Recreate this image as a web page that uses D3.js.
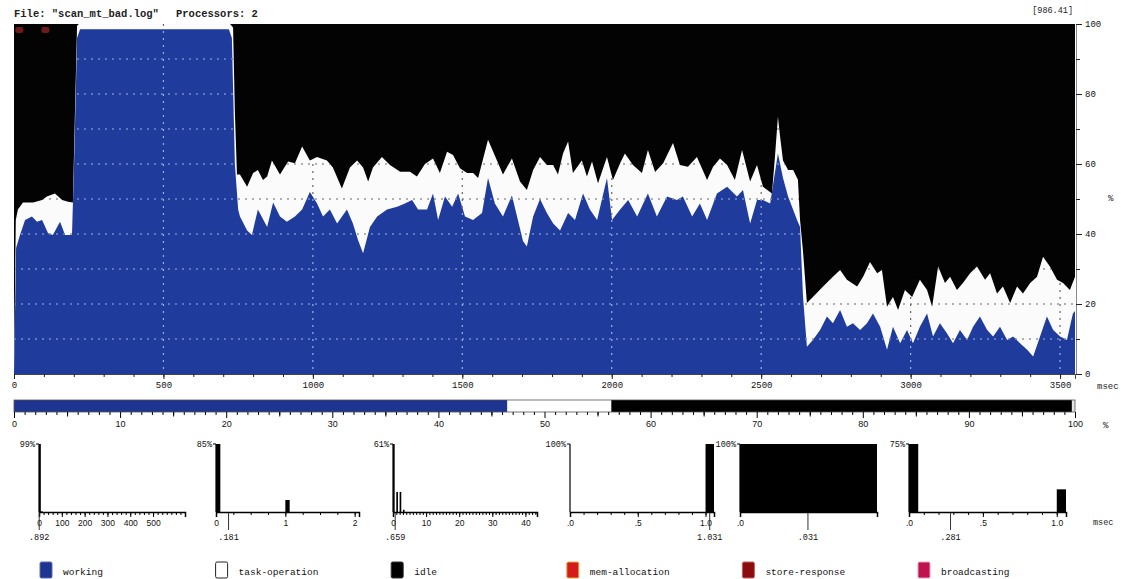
<!DOCTYPE html>
<html><head><meta charset="utf-8">
<script src="https://cdn.jsdelivr.net/npm/d3@7"></script>
<style>
html,body{margin:0;padding:0;background:#fff;}
svg{display:block;font-family:"Liberation Mono","DejaVu Sans Mono",monospace;}
.tick text{fill:#111;}
</style></head><body>
<svg id="chart" width="1121" height="579"></svg>
<script>
// ---------------- data ----------------
// utilisation over time (percent of both processors)
const workingMs = [0,7,20,37,60,77,94,114,130,154,171,194,201,211,221,719,729,739,750,
  756,780,796,816,847,867,890,913,940,964,990,1014,1034,1057,1081,1114,1134,1151,1168,1191,1215,
  1248,1282,1308,1332,1352,1382,1402,1419,1442,1466,1486,1509,1536,1566,1586,1609,1636,1666,1686,
  1703,1716,1737,1760,1783,1804,1827,1854,1877,1904,1927,1951,1984,2001,2028,2055,2085,2121,2151,
  2185,2218,2238,2269,2295,2319,2352,2386,2419,2439,2463,2486,2506,2530,2556,2573,2590,2620,2630,
  2640,2653,2673,2697,2720,2740,2764,2787,2807,2831,2854,2874,2898,2921,2941,2965,2988,3008,3031,
  3055,3075,3098,3122,3142,3165,3189,3209,3232,3256,3276,3299,3323,3343,3366,3390,3410,3433,3456,
  3477,3500,3523,3543,3550];
const workingPct = [0,36,39.7,44,45,43.5,44,40.2,39.7,43.5,39.7,39.7,60,96,98.5,98.5,96,60,47,
  45,41,39.7,47,42,49,45,43.5,45,47,52,48.7,45,47,43,47,43,38.3,34.5,42,45,
  47,47.8,48.7,49.7,47,47,51.6,44,50.7,47.8,51.6,45,44,46,56,48.7,45,51,44,
  38,36.4,45,50,46,43,41,46,44,51.6,47,44,56,44,47,49.7,45,51.6,45,
  50.7,49.7,50.7,45,48.7,44,51.6,53.5,50.7,52.6,43,49.7,49.7,48.7,63,56,50.7,44,42,
  22,7.8,9.7,12.6,16.4,14.5,18.3,13.5,14.5,12.6,14.5,17.3,13.5,6.9,13.5,8.8,12.6,8.8,13.5,
  17.3,10.7,14.5,11.6,8.8,12.6,9.7,13.5,16.4,12.6,10.7,13.5,9.7,10.7,8.8,6.9,5,10.7,16.4,
  12.6,10.7,9.7,17.3,18];

// working + task-operation (upper edge of the busy band)
const busyMs = [0,6,13,30,64,94,110,137,161,181,197,204,211,217,723,733,739,746,
  756,780,800,816,833,847,863,890,917,940,964,990,1014,1047,1067,1097,1124,1148,1168,1185,1201,
  1231,1258,1292,1325,1348,1375,1402,1425,1449,1469,1492,1516,1536,1553,1586,1616,1636,1666,1693,
  1716,1737,1760,1783,1804,1820,1837,1854,1870,1900,1917,1934,1954,1984,2004,2028,2044,2071,2101,
  2121,2145,2172,2205,2228,2255,2285,2319,2339,2362,2386,2412,2436,2463,2486,2506,2536,2546,2556,
  2563,2573,2590,2607,2623,2630,2640,2653,2673,2707,2740,2764,2787,2821,2841,2864,2888,2904,2921,
  2941,2958,2981,3005,3031,3055,3072,3092,3115,3132,3155,3175,3199,3222,3249,3266,3289,3309,3333,
  3356,3376,3400,3423,3443,3466,3490,3510,3533,3550];
const busyPct = [0,44,47,49,49,49.7,50.7,51.6,49.7,49.2,49,75,99.5,100,100,99,75,57,
  57,53.5,57.4,58.3,55.4,56.4,61,57,60.7,60.2,65,61,62,61,59,53,59,61,59,55,59,
  62,59.7,57.8,57.8,56.4,60,61.6,57.4,63.5,62.6,58.8,57.4,57.4,56,66.9,61,57,61.6,55,
  52.6,58.3,62,59.7,59.7,57,63,66.4,57.4,61,56.4,60.7,54.5,62,55.4,60.2,63,59.7,57.4,
  64,57.7,60.2,66,59.7,59.2,62,55.4,59.2,61.6,59.7,55.4,64,55,59.7,53.5,51.6,62,73.5,
  68,61,58.3,58.3,55.5,44,35,20.3,22,25,27.8,29.7,26.9,25,27.8,32,28.8,29.7,19.2,
  22,18.3,24,22,26.9,24,19.2,30.7,26,27.8,24,26,28.8,30.7,26.9,28.8,23,25,20.3,
  25,23,26,27.8,33.5,30.7,26.9,26,24,27.8];

// short events seen at the top of the trace
const eventMs = [18, 105];

// share of total time per state (percent); the small remainder is unclassified
const stateNames = ["working", "task-operation", "idle", "mem-allocation", "store-response", "broadcasting"];
const stateShare = [46.5, 9.8, 43.4, 0, 0, 0];
const stateColors = ["#1d3590", "#ffffff", "#000000", "#d41c1c", "#8a0c0c", "#c0124e"];

// duration histograms, one per state: [from, to, percent]
const histTopLabel = ["99%", "85%", "61%", "100%", "100%", "75%"];
const histMaxPct = [99, 85, 61, 100, 100, 75];
const histDomainMax = [640, 2.0625, 43.5, 1.0625, 0.0625, 1.0625];
const histTickValues = [[0,100,200,300,400,500],[0,1,2],[0,10,20,30,40],[0,0.5,1],[0],[0,0.5,1]];
const histMinorStep = [20, 0.25, 1, 0.1, 0, 0.1];
const histBins = [
  [[0, 8, 99], [8, 16, 1]],
  [[0, 0.0625, 85], [1, 1.0625, 15]],
  [[0, 0.5, 61], [1, 1.5, 18], [2, 2.5, 18], [3, 3.5, 2]],
  [[1, 1.0625, 100]],
  [[0, 0.0625, 100]],
  [[0, 0.0625, 75], [1, 1.0625, 25]]
];
const histMean = [0.892, 0.181, 0.659, 1.031, 0.031, 0.281];

const fileName = "scan_mt_bad.log";
const processors = 2;
const totalMs = 986.41;

// ---------------- drawing ----------------
const svg = d3.select("#chart");
const mono = "'Liberation Mono','DejaVu Sans Mono',monospace";

svg.append("text").attr("x", 14).attr("y", 17).attr("font-size", 10.5).attr("font-weight", "bold")
  .attr("fill", "#222").text(`File: "${fileName}"`);
svg.append("text").attr("x", 176).attr("y", 17).attr("font-size", 10.5).attr("font-weight", "bold")
  .attr("fill", "#222").text(`Processors: ${processors}`);
svg.append("text").attr("x", 1073).attr("y", 13).attr("font-size", 8.5).attr("text-anchor", "end")
  .attr("fill", "#222").text(`[${totalMs.toFixed(2)}]`);

const L = 14, R = 1075, T = 24, B = 374;
const x = d3.scaleLinear().domain([0, 3550]).range([L, R]);
const y = d3.scaleLinear().domain([0, 100]).range([B, T]);

const workRows = workingMs.map((t, i) => ({t, v: workingPct[i]}));
const busyRows = busyMs.map((t, i) => ({t, v: busyPct[i]}));
const area = d3.area().x(d => x(d.t)).y0(y(0)).y1(d => y(d.v));

const defs = svg.append("defs");
defs.append("clipPath").attr("id", "clipBusy").append("path").attr("d", area(busyRows));
defs.append("clipPath").attr("id", "clipWork").append("path").attr("d", area(workRows));

const plot = svg.append("g");
plot.append("rect").attr("x", L).attr("y", T).attr("width", R - L).attr("height", B - T).attr("fill", "#030303");
plot.append("path").attr("d", area(busyRows)).attr("fill", "#fbfbfb");

function grid(g, color) {
  g.selectAll("line.h").data([10,20,30,40,50,60,70,80,90]).join("line").attr("class", "h")
    .attr("x1", L).attr("x2", R).attr("y1", d => y(d)).attr("y2", d => y(d))
    .attr("stroke", color).attr("stroke-width", 1.2).attr("stroke-dasharray", "2,5");
  g.selectAll("line.v").data(d3.range(500, 3501, 500)).join("line").attr("class", "v")
    .attr("y1", T).attr("y2", B).attr("x1", d => x(d)).attr("x2", d => x(d))
    .attr("stroke", color).attr("stroke-width", 1.2).attr("stroke-dasharray", "2,5");
}
grid(plot.append("g").attr("clip-path", "url(#clipBusy)"), "#666");
plot.append("path").attr("d", area(workRows)).attr("fill", "#1f3c9c");
grid(plot.append("g").attr("clip-path", "url(#clipWork)"), "#9fb0e4");

plot.selectAll("rect.ev").data(eventMs).join("rect").attr("class", "ev")
  .attr("x", d => x(d) - 4).attr("y", T + 3).attr("width", 8).attr("height", 6)
  .attr("rx", 2).attr("fill", "#6e1a1a");

// axes of the trace
const ax = svg.append("g").attr("font-family", mono);
const yAxis = ax.append("g").attr("transform", `translate(${R + 1},0)`)
  .call(d3.axisRight(y).tickValues([0,20,40,60,80,100]).tickSize(6).tickPadding(3));
yAxis.select(".domain").attr("stroke", "#888");
ax.append("g").attr("transform", `translate(${R + 1},0)`)
  .call(d3.axisRight(y).tickValues([10,30,50,70,90]).tickSize(4).tickFormat(""))
  .select(".domain").remove();
const xAxis = ax.append("g").attr("transform", `translate(0,${B})`)
  .call(d3.axisBottom(x).tickValues(d3.range(0, 3501, 500)).tickSize(5).tickPadding(3).tickFormat(d3.format("d")));
xAxis.select(".domain").attr("stroke", "#444");
ax.append("g").attr("transform", `translate(0,${B})`)
  .call(d3.axisBottom(x).tickValues(d3.range(0, 3551, 100)).tickSize(3).tickFormat(""))
  .select(".domain").remove();
ax.selectAll("text").attr("font-size", 9).attr("font-family", mono);
ax.selectAll(".tick line").attr("stroke", "#222");
svg.append("text").attr("x", 1097).attr("y", 389).attr("font-size", 9).attr("fill", "#222").text("msec");
svg.append("text").attr("x", 1108).attr("y", 201).attr("font-size", 9).attr("fill", "#222").text("%");

// time-share bar
const p = d3.scaleLinear().domain([0, 100]).range([L, R]);
const ends = d3.cumsum(stateShare);
const shareRows = stateShare.map((s, i) => ({s, from: ends[i] - s, c: stateColors[i]})).filter(d => d.s > 0);
const barY = 400, barH = 12;
svg.append("rect").attr("x", L).attr("y", barY).attr("width", R - L).attr("height", barH).attr("fill", "#e4e4e4");
svg.selectAll("rect.share").data(shareRows).join("rect").attr("class", "share")
  .attr("x", d => p(d.from)).attr("y", barY).attr("width", d => p(d.from + d.s) - p(d.from))
  .attr("height", barH).attr("fill", d => d.c);
svg.append("rect").attr("x", L).attr("y", barY).attr("width", R - L).attr("height", barH)
  .attr("fill", "none").attr("stroke", "#555").attr("stroke-width", 0.8);
const pAxis = svg.append("g").attr("transform", `translate(0,${barY + barH})`).attr("font-family", mono)
  .call(d3.axisBottom(p).tickValues(d3.range(0, 101, 10)).tickSize(6).tickPadding(3));
pAxis.select(".domain").remove();
svg.append("g").attr("transform", `translate(0,${barY + barH})`)
  .call(d3.axisBottom(p).tickValues(d3.range(0, 101, 1).filter(d => d % 10)).tickSize(3).tickFormat(""))
  .select(".domain").remove();
svg.append("g").attr("transform", `translate(0,${barY + barH})`)
  .call(d3.axisBottom(p).tickValues(d3.range(5, 100, 10)).tickSize(4.5).tickFormat(""))
  .select(".domain").remove();
pAxis.selectAll("text").attr("font-size", 9);
svg.append("text").attr("x", 1103).attr("y", 428).attr("font-size", 9).attr("fill", "#222").text("%");

// duration histograms
const histRange = [[39, 185], [216, 359], [393, 537], [570, 714], [740, 877], [909, 1066]];
const hTop = 444, hBot = 512;
const fmtShort = s => String(s).replace(/^0(?=\.)/, "");
histBins.forEach((bins, i) => {
  const g = svg.append("g").attr("font-family", mono);
  const hx = d3.scaleLinear().domain([0, histDomainMax[i]]).range(histRange[i]);
  const hy = d3.scaleLinear().domain([0, histMaxPct[i]]).range([hBot, hTop]);
  g.selectAll("rect").data(bins).join("rect")
    .attr("x", d => hx(d[0])).attr("width", d => Math.max(1.2, hx(d[1]) - hx(d[0])))
    .attr("y", d => hy(d[2])).attr("height", d => hBot - hy(d[2])).attr("fill", "#000");
  // y axis with a single tick at the maximum
  g.append("line").attr("x1", hx(0)).attr("x2", hx(0)).attr("y1", hTop).attr("y2", hBot).attr("stroke", "#000").attr("stroke-width", 1.2);
  g.append("line").attr("x1", hx(0) - 3).attr("x2", hx(0)).attr("y1", hTop).attr("y2", hTop).attr("stroke", "#000");
  g.append("text").attr("x", hx(0) - 4).attr("y", hTop + 3).attr("text-anchor", "end")
    .attr("font-size", 8.5).attr("fill", "#111").text(histTopLabel[i]);
  // x axis
  const isFrac = histDomainMax[i] <= 1.1;
  const xa = g.append("g").attr("transform", `translate(0,${hBot})`)
    .call(d3.axisBottom(hx).tickValues(histTickValues[i]).tickSize(5).tickPadding(3)
      .tickFormat(d => isFrac ? fmtShort(d.toFixed(1)) : String(d)));
  xa.select(".domain").attr("stroke", "#000").attr("stroke-width", 1.5);
  xa.selectAll("text").attr("font-size", 8.5);
  if (histMinorStep[i] > 0) {
    g.append("g").attr("transform", `translate(0,${hBot})`)
      .call(d3.axisBottom(hx).tickValues(d3.range(0, histDomainMax[i] + 1e-9, histMinorStep[i])).tickSize(3).tickFormat(""))
      .select(".domain").remove();
  }
  // mean marker
  const mx = hx(histMean[i]);
  g.append("line").attr("x1", mx).attr("x2", mx).attr("y1", hBot + 1).attr("y2", hBot + 18)
    .attr("stroke", "#333").attr("stroke-width", 1);
  g.append("text").attr("x", mx).attr("y", hBot + 28).attr("text-anchor", "middle")
    .attr("font-size", 8.5).attr("fill", "#111").text(fmtShort(histMean[i].toFixed(3)));
});
svg.append("text").attr("x", 1093).attr("y", 525).attr("font-size", 8.5).attr("fill", "#222").text("msec");

// legend
const legendStroke = ["#5a6ab0", "#222", "#333", "#e0b040", "#c06060", "#f0a0c0"];
const lg = svg.append("g");
stateNames.forEach((name, i) => {
  const lx = 40 + i * 175.6;
  lg.append("rect").attr("x", lx).attr("y", 562).attr("width", 12).attr("height", 16).attr("rx", 1.5)
    .attr("fill", stateColors[i]).attr("stroke", legendStroke[i]).attr("stroke-width", 1);
  lg.append("text").attr("x", lx + 23).attr("y", 575).attr("font-size", 9.5).attr("fill", "#111").text(name);
});
</script>
</body></html>
